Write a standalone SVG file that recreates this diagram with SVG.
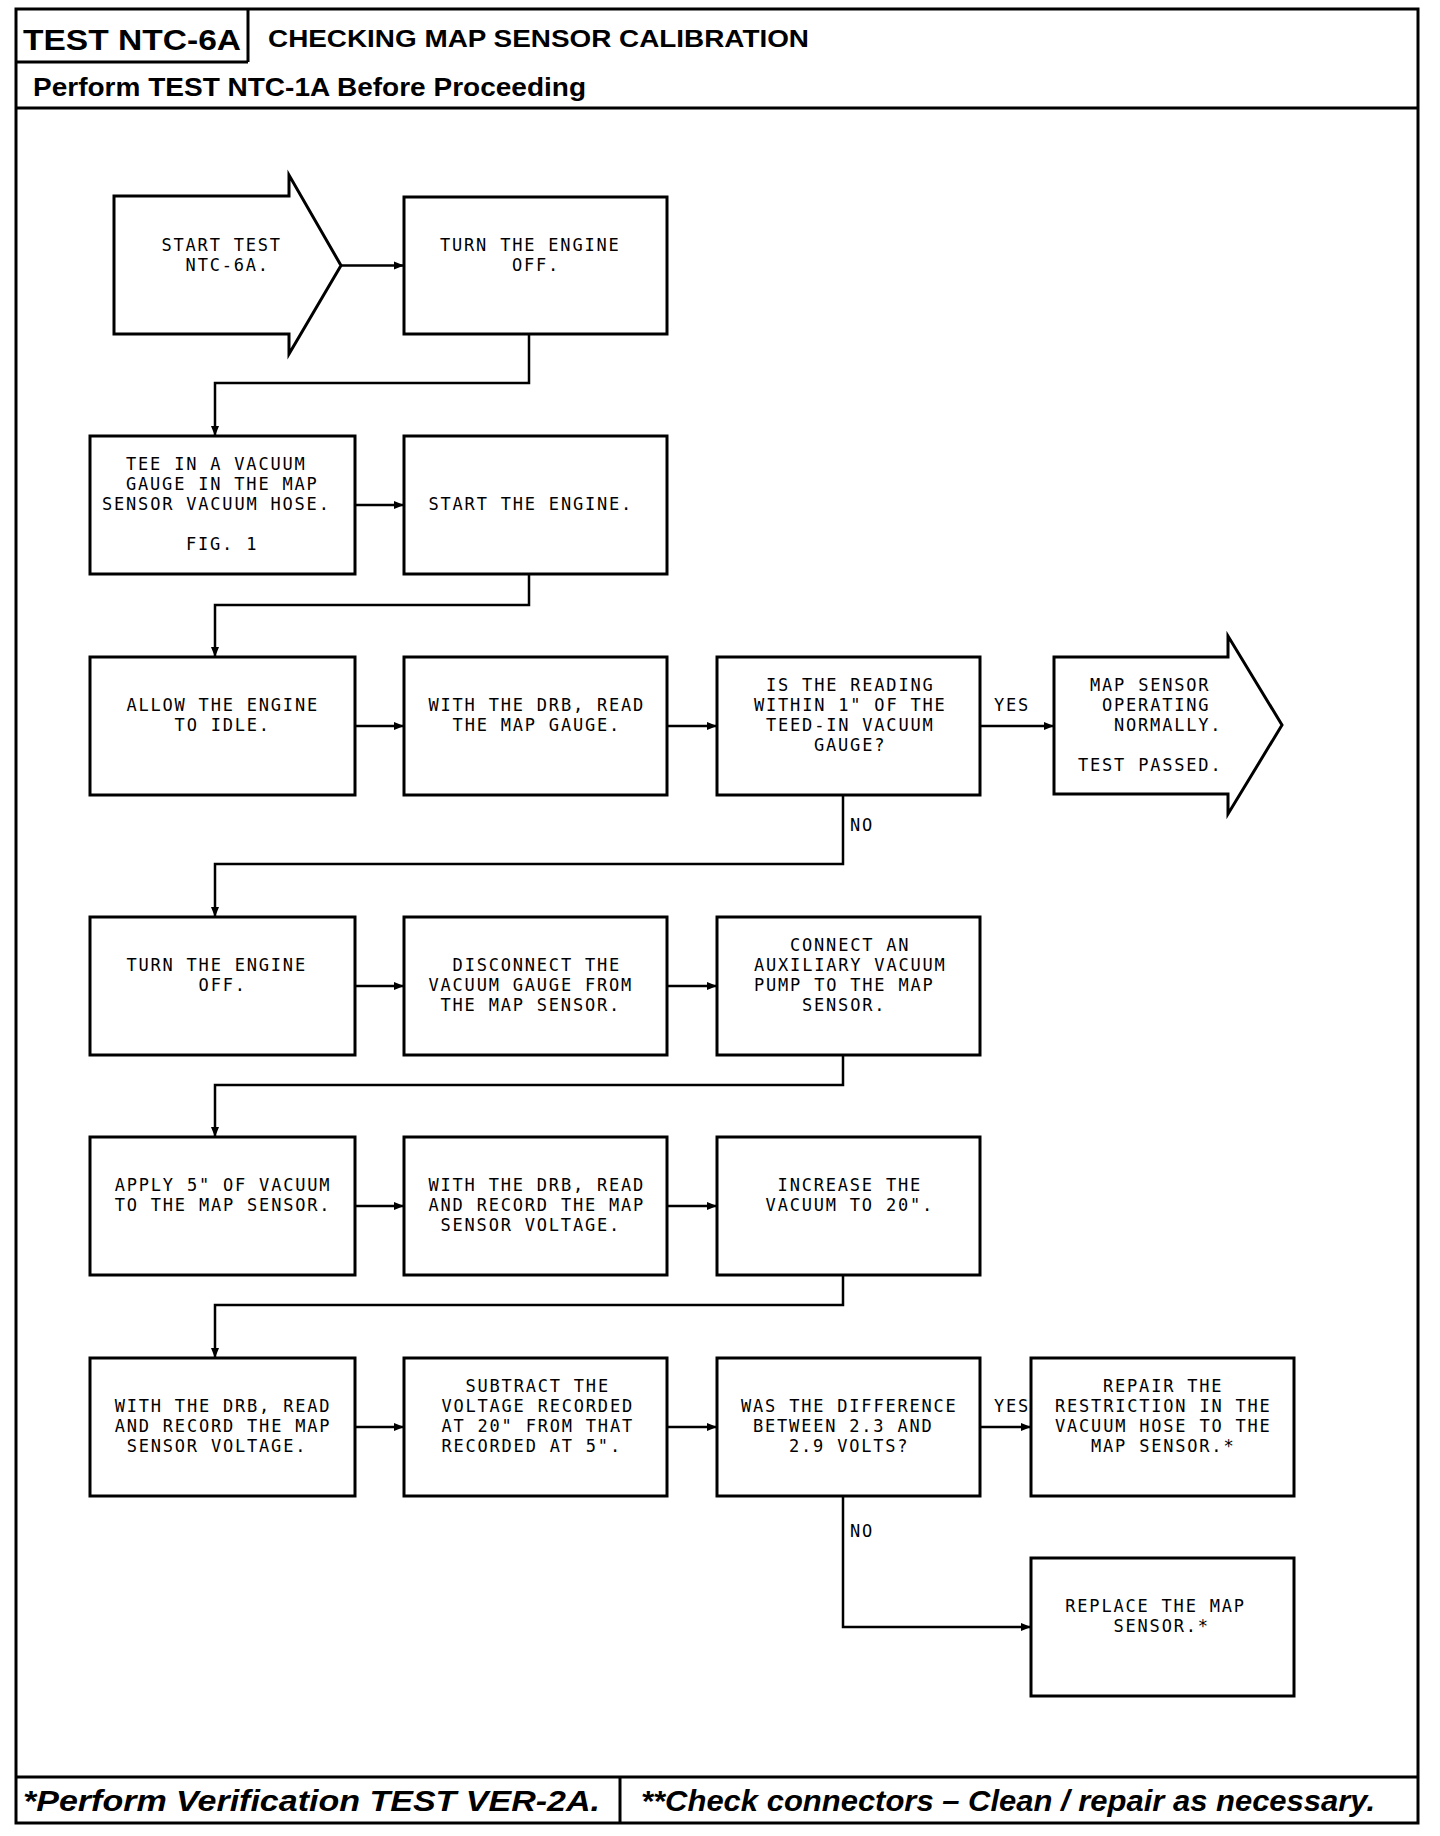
<svg xmlns="http://www.w3.org/2000/svg" width="1440" height="1836" viewBox="0 0 1440 1836">
<style>
.frame{fill:none;stroke:#000;stroke-width:3}
.box{fill:#fff;stroke:#000;stroke-width:3}
.con{fill:none;stroke:#000;stroke-width:2.5}
.t{font-family:"DejaVu Sans Mono","Liberation Mono",monospace;font-size:17px;letter-spacing:1.8px;fill:#000}
.hb{font-family:"Liberation Sans",Arial,sans-serif;font-weight:bold;fill:#000}
.fb{font-family:"Liberation Sans",Arial,sans-serif;font-weight:bold;font-style:italic;fill:#000}
</style>
<defs>
<marker id="ah" markerUnits="userSpaceOnUse" markerWidth="12" markerHeight="10" refX="10" refY="5" orient="auto">
<path d="M0,1 L10,5 L0,9 Z" fill="#000"/>
</marker>
</defs>
<rect width="1440" height="1836" fill="#fff"/>
<g id="frame">
<rect class="frame" x="16" y="9" width="1402" height="1814"/>
<path class="frame" d="M248,9 V62 M16,62 H248 M16,108 H1418 M16,1777 H1418 M620,1777 V1823"/>
<text class="hb" x="23" y="50" font-size="29" textLength="218" lengthAdjust="spacingAndGlyphs">TEST NTC-6A</text>
<text class="hb" x="268" y="47" font-size="24" textLength="541" lengthAdjust="spacingAndGlyphs">CHECKING MAP SENSOR CALIBRATION</text>
<text class="hb" x="33" y="96" font-size="26" textLength="553" lengthAdjust="spacingAndGlyphs">Perform TEST NTC-1A Before Proceeding</text>
<text class="fb" x="23" y="1811" font-size="30" textLength="577" lengthAdjust="spacingAndGlyphs">*Perform Verification TEST VER-2A.</text>
<text class="fb" x="641" y="1811" font-size="30" textLength="734" lengthAdjust="spacingAndGlyphs">**Check connectors – Clean / repair as necessary.</text>
</g>
<g id="connectors">
<path class="con" d="M341,265.5 H404" marker-end="url(#ah)"/>
<path class="con" d="M529,334 V383 H215 V436" marker-end="url(#ah)"/>
<path class="con" d="M355,505 H404" marker-end="url(#ah)"/>
<path class="con" d="M529,574 V605 H215 V657" marker-end="url(#ah)"/>
<path class="con" d="M355,726 H404" marker-end="url(#ah)"/>
<path class="con" d="M667,726 H717" marker-end="url(#ah)"/>
<path class="con" d="M980,726 H1054" marker-end="url(#ah)"/>
<path class="con" d="M843,795 V864 H215 V917" marker-end="url(#ah)"/>
<path class="con" d="M355,986 H404" marker-end="url(#ah)"/>
<path class="con" d="M667,986 H717" marker-end="url(#ah)"/>
<path class="con" d="M843,1055 V1085 H215 V1137" marker-end="url(#ah)"/>
<path class="con" d="M355,1206 H404" marker-end="url(#ah)"/>
<path class="con" d="M667,1206 H717" marker-end="url(#ah)"/>
<path class="con" d="M843,1275 V1305 H215 V1358" marker-end="url(#ah)"/>
<path class="con" d="M355,1427 H404" marker-end="url(#ah)"/>
<path class="con" d="M667,1427 H717" marker-end="url(#ah)"/>
<path class="con" d="M980,1427 H1031" marker-end="url(#ah)"/>
<path class="con" d="M843,1496 V1627 H1031" marker-end="url(#ah)"/>
<text class="t" x="994" y="711">YES</text>
<text class="t" x="850" y="831">NO</text>
<text class="t" x="994" y="1412">YES</text>
<text class="t" x="850" y="1537">NO</text>
</g>
<g id="n1">
<path class="box" d="M114,196 H289 V175 L341,265.5 L289,354 V334 H114 Z"/>
<text class="t" x="161.5" y="251">START TEST</text>
<text class="t" x="185.6" y="271">NTC-6A.</text>
</g>
<g id="n2">
<rect class="box" x="404" y="197" width="263" height="137"/>
<text class="t" x="440" y="251">TURN THE ENGINE</text>
<text class="t" x="512" y="271">OFF.</text>
</g>
<g id="n3">
<rect class="box" x="90" y="436" width="265" height="138"/>
<text class="t" x="126" y="470">TEE IN A VACUUM</text>
<text class="t" x="126" y="490">GAUGE IN THE MAP</text>
<text class="t" x="102" y="510">SENSOR VACUUM HOSE.</text>
<text class="t" x="186" y="550">FIG. 1</text>
</g>
<g id="n4">
<rect class="box" x="404" y="436" width="263" height="138"/>
<text class="t" x="428.5" y="510">START THE ENGINE.</text>
</g>
<g id="n5">
<rect class="box" x="90" y="657" width="265" height="138"/>
<text class="t" x="126.4" y="711">ALLOW THE ENGINE</text>
<text class="t" x="174.6" y="731">TO IDLE.</text>
</g>
<g id="n6">
<rect class="box" x="404" y="657" width="263" height="138"/>
<text class="t" x="428.5" y="711">WITH THE DRB, READ</text>
<text class="t" x="452.6" y="731">THE MAP GAUGE.</text>
</g>
<g id="n7">
<rect class="box" x="717" y="657" width="263" height="138"/>
<text class="t" x="766" y="691">IS THE READING</text>
<text class="t" x="754" y="711">WITHIN 1" OF THE</text>
<text class="t" x="766" y="731">TEED-IN VACUUM</text>
<text class="t" x="814" y="751">GAUGE?</text>
</g>
<g id="n8">
<path class="box" d="M1054,657 H1228 V636 L1282,725 L1228,814 V794 H1054 Z"/>
<text class="t" x="1090" y="691">MAP SENSOR</text>
<text class="t" x="1102" y="711">OPERATING</text>
<text class="t" x="1114" y="731">NORMALLY.</text>
<text class="t" x="1078" y="771">TEST PASSED.</text>
</g>
<g id="n9">
<rect class="box" x="90" y="917" width="265" height="138"/>
<text class="t" x="126.4" y="971">TURN THE ENGINE</text>
<text class="t" x="198.6" y="991">OFF.</text>
</g>
<g id="n10">
<rect class="box" x="404" y="917" width="263" height="138"/>
<text class="t" x="452.6" y="971">DISCONNECT THE</text>
<text class="t" x="428.5" y="991">VACUUM GAUGE FROM</text>
<text class="t" x="440.5" y="1011">THE MAP SENSOR.</text>
</g>
<g id="n11">
<rect class="box" x="717" y="917" width="263" height="138"/>
<text class="t" x="790" y="951">CONNECT AN</text>
<text class="t" x="754" y="971">AUXILIARY VACUUM</text>
<text class="t" x="754" y="991">PUMP TO THE MAP</text>
<text class="t" x="802" y="1011">SENSOR.</text>
</g>
<g id="n12">
<rect class="box" x="90" y="1137" width="265" height="138"/>
<text class="t" x="114.7" y="1191">APPLY 5" OF VACUUM</text>
<text class="t" x="114.7" y="1211">TO THE MAP SENSOR.</text>
</g>
<g id="n13">
<rect class="box" x="404" y="1137" width="263" height="138"/>
<text class="t" x="428.5" y="1191">WITH THE DRB, READ</text>
<text class="t" x="428.5" y="1211">AND RECORD THE MAP</text>
<text class="t" x="440.5" y="1231">SENSOR VOLTAGE.</text>
</g>
<g id="n14">
<rect class="box" x="717" y="1137" width="263" height="138"/>
<text class="t" x="777.6" y="1191">INCREASE THE</text>
<text class="t" x="765.6" y="1211">VACUUM TO 20".</text>
</g>
<g id="n15">
<rect class="box" x="90" y="1358" width="265" height="138"/>
<text class="t" x="114.7" y="1412">WITH THE DRB, READ</text>
<text class="t" x="114.7" y="1432">AND RECORD THE MAP</text>
<text class="t" x="126.7" y="1452">SENSOR VOLTAGE.</text>
</g>
<g id="n16">
<rect class="box" x="404" y="1358" width="263" height="138"/>
<text class="t" x="465.5" y="1392">SUBTRACT THE</text>
<text class="t" x="441.4" y="1412">VOLTAGE RECORDED</text>
<text class="t" x="441.4" y="1432">AT 20" FROM THAT</text>
<text class="t" x="441.4" y="1452">RECORDED AT 5".</text>
</g>
<g id="n17">
<rect class="box" x="717" y="1358" width="263" height="138"/>
<text class="t" x="741" y="1412">WAS THE DIFFERENCE</text>
<text class="t" x="753" y="1432">BETWEEN 2.3 AND</text>
<text class="t" x="789" y="1452">2.9 VOLTS?</text>
</g>
<g id="n18">
<rect class="box" x="1031" y="1358" width="263" height="138"/>
<text class="t" x="1103" y="1392">REPAIR THE</text>
<text class="t" x="1055" y="1412">RESTRICTION IN THE</text>
<text class="t" x="1055" y="1432">VACUUM HOSE TO THE</text>
<text class="t" x="1091" y="1452">MAP SENSOR.*</text>
</g>
<g id="n19">
<rect class="box" x="1031" y="1558" width="263" height="138"/>
<text class="t" x="1065.3" y="1612">REPLACE THE MAP</text>
<text class="t" x="1113.5" y="1632">SENSOR.*</text>
</g>
</svg>
